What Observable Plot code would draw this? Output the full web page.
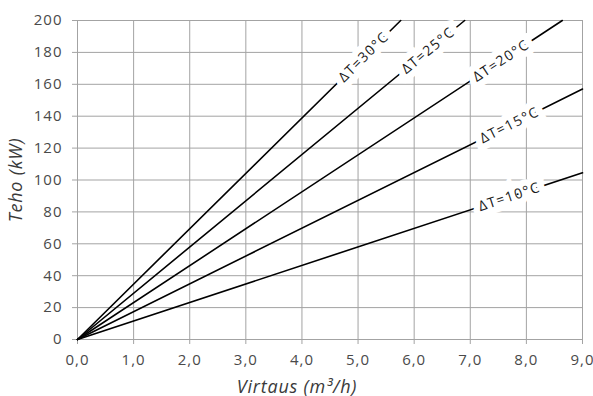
<!DOCTYPE html>
<html>
<head>
<meta charset="utf-8">
<script src="https://cdn.jsdelivr.net/npm/d3@7"></script>
<script src="https://cdn.jsdelivr.net/npm/@observablehq/plot@0.6"></script>
<style>
  html, body { margin: 0; padding: 0; background: #fff; }
  svg { display: block; }
  .tick-text text { letter-spacing: 1px; }
  .dt-label text { letter-spacing: 1.4px; }
  .axis-title text { letter-spacing: 0.8px; }
</style>
</head>
<body>
<div id="chart"></div>
<script>
// Heat output vs. water flow for several temperature differences
const deltaT    = [10, 15, 20, 25, 30];          // °C
const endFlow   = [9, 9, 8.64, 6.9, 5.76];       // m³/h where each line ends
const endPower  = [104.5, 157, 200, 200, 200];   // kW at that end point
const labelFlow = [7.7, 7.7, 7.55, 6.25, 5.1];   // where each ΔT label sits

const xTicks = [0, 1, 2, 3, 4, 5, 6, 7, 8, 9];
const yTicks = [0, 20, 40, 60, 80, 100, 120, 140, 160, 180, 200];

const W = 593, H = 396;
const M = {left: 77, right: 11, top: 20, bottom: 57};
const font = "'Open Sans', 'DejaVu Sans', sans-serif";

// straight lines from the origin to each end point
const lines = deltaT.flatMap((t, i) => [
  {t, flow: 0, power: 0},
  {t, flow: endFlow[i], power: endPower[i]}
]);

// scales matching the plot frame, used to orient the labels along the lines
const xs = d3.scaleLinear([0, 9], [M.left, W - M.right]);
const ys = d3.scaleLinear([0, 200], [H - M.bottom, M.top]);

const labels = deltaT.map((t, i) => {
  const slope = endPower[i] / endFlow[i];
  const f = labelFlow[i];
  const dx = xs(endFlow[i]) - xs(0);
  const dy = ys(0) - ys(endPower[i]);
  return {
    text: `ΔT=${t}°C`,
    flow: f,
    power: slope * f,
    angle: -Math.atan2(dy, dx) * 180 / Math.PI
  };
});

const fmt = d => d.toFixed(1).replace(".", ",");
const grid = "#a3a3a3";

const chart = Plot.plot({
  width: W,
  height: H,
  marginLeft: M.left,
  marginRight: M.right,
  marginTop: M.top,
  marginBottom: M.bottom,
  style: {fontFamily: font, background: "#fff", overflow: "visible"},
  x: {domain: [0, 9]},
  y: {domain: [0, 200]},
  marks: [
    Plot.gridX(xTicks, {stroke: grid, strokeOpacity: 1}),
    Plot.gridY(yTicks, {stroke: grid, strokeOpacity: 1}),
    Plot.axisX(xTicks, {
      tickFormat: fmt, tickSize: 5, tickPadding: 10, stroke: grid,
      fontSize: 15, color: "#4a4a4a", label: null, className: "tick-text"
    }),
    Plot.axisY(yTicks, {
      tickSize: 5, tickPadding: 10, stroke: grid,
      fontSize: 15, color: "#4a4a4a", label: null, className: "tick-text"
    }),
    Plot.ruleY([0], {stroke: grid}),
    Plot.ruleX([0], {stroke: grid}),
    Plot.line(lines, {
      x: "flow", y: "power", z: "t",
      stroke: "#000", strokeWidth: 1.6
    }),
    Plot.text(labels, {
      x: "flow", y: "power", text: "text", rotate: "angle",
      fontSize: 14, fill: "#1a1a1a", stroke: "#fff", strokeWidth: 13,
      strokeLinejoin: "miter", fontFamily: font, className: "dt-label"
    }),
    Plot.text(["Virtaus (m³/h)"], {
      frameAnchor: "bottom", textAnchor: "middle", lineAnchor: "bottom",
      dx: -33, dy: 53,
      fontSize: 18, fontStyle: "italic", fill: "#3a3a3a", fontFamily: font,
      className: "axis-title"
    }),
    Plot.text(["Teho (kW)"], {
      frameAnchor: "left", textAnchor: "middle", lineAnchor: "middle",
      dx: -61, rotate: -90,
      fontSize: 18, fontStyle: "italic", fill: "#3a3a3a", fontFamily: font,
      className: "axis-title"
    })
  ]
});

document.getElementById("chart").appendChild(chart);
</script>
</body>
</html>
